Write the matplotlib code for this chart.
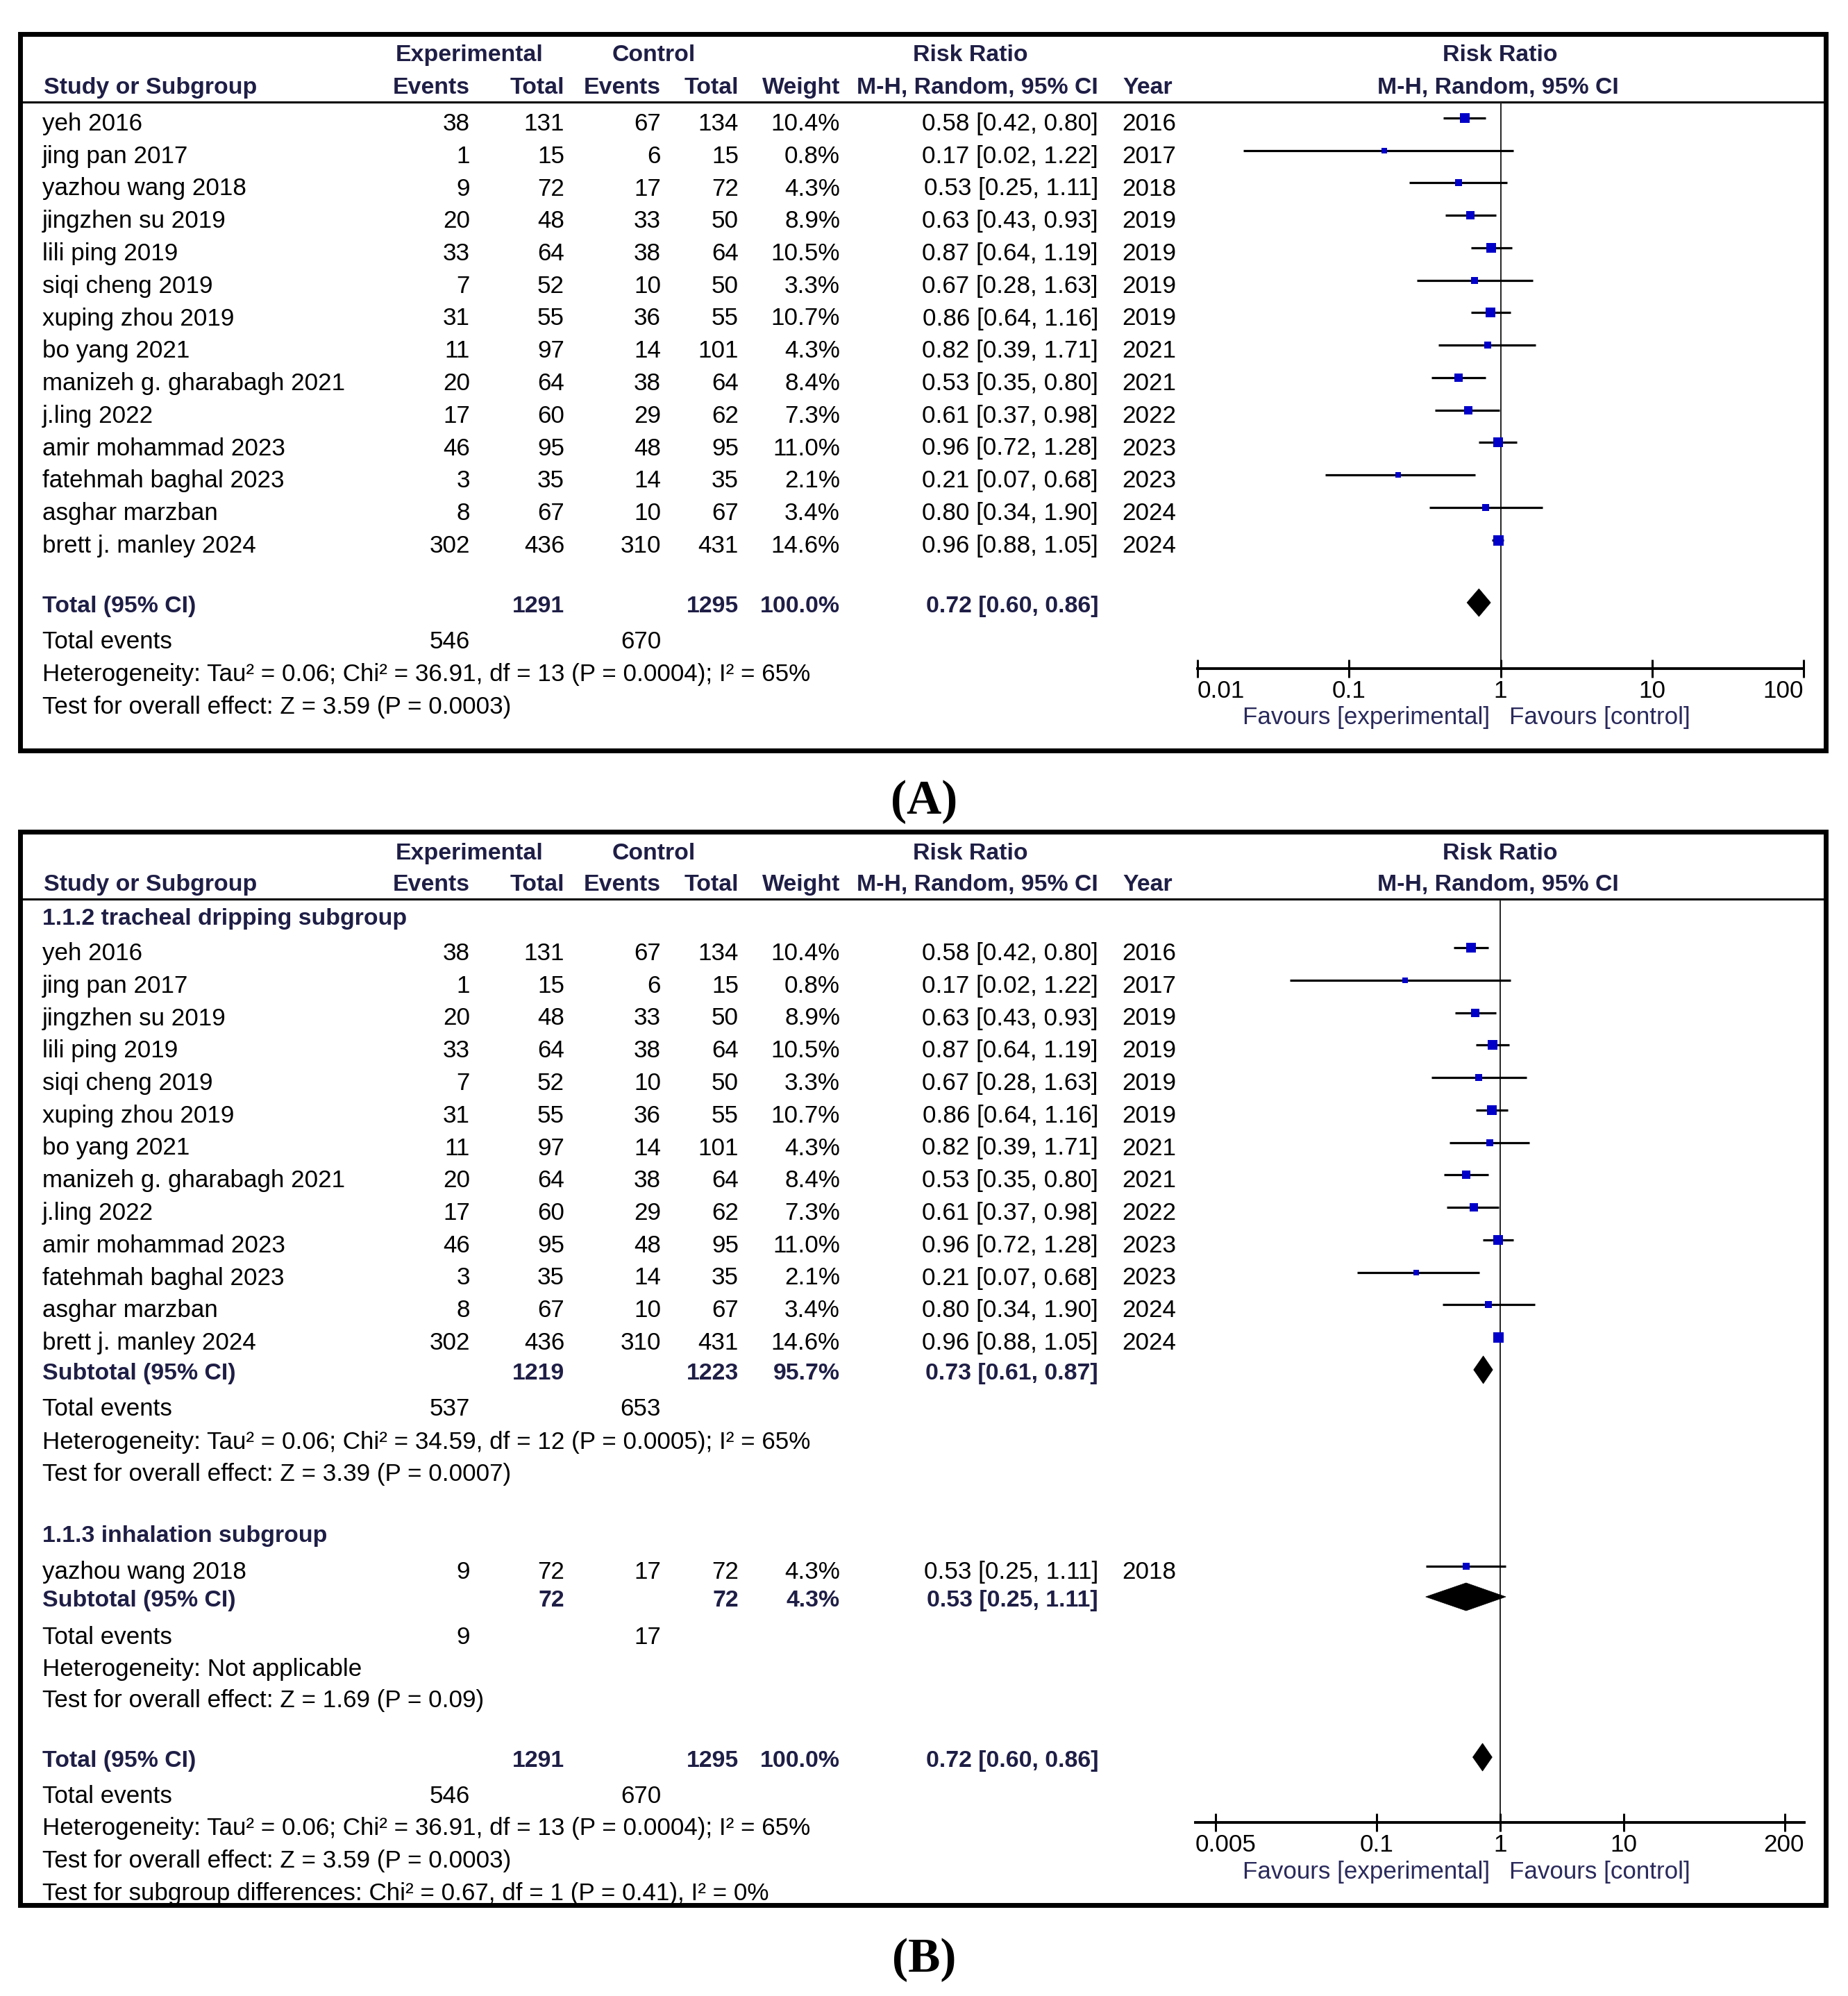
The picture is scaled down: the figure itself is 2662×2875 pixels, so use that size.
import numpy as np
import matplotlib
matplotlib.use('Agg')
import matplotlib.pyplot as plt
from matplotlib.patches import Polygon, Rectangle
from matplotlib.ticker import NullLocator

# ---------------- data ----------------
studies = ["yeh 2016", "jing pan 2017", "yazhou wang 2018", "jingzhen su 2019",
           "lili ping 2019", "siqi cheng 2019", "xuping zhou 2019", "bo yang 2021",
           "manizeh g. gharabagh 2021", "j.ling 2022", "amir mohammad 2023",
           "fatehmah baghal 2023", "asghar marzban", "brett j. manley 2024"]
exp_events = [38, 1, 9, 20, 33, 7, 31, 11, 20, 17, 46, 3, 8, 302]
exp_total = [131, 15, 72, 48, 64, 52, 55, 97, 64, 60, 95, 35, 67, 436]
ctrl_events = [67, 6, 17, 33, 38, 10, 36, 14, 38, 29, 48, 14, 10, 310]
ctrl_total = [134, 15, 72, 50, 64, 50, 55, 101, 64, 62, 95, 35, 67, 431]
weights = [10.4, 0.8, 4.3, 8.9, 10.5, 3.3, 10.7, 4.3, 8.4, 7.3, 11.0, 2.1, 3.4, 14.6]
rr = [0.58, 0.17, 0.53, 0.63, 0.87, 0.67, 0.86, 0.82, 0.53, 0.61, 0.96, 0.21, 0.80, 0.96]
rr_lo = [0.42, 0.02, 0.25, 0.43, 0.64, 0.28, 0.64, 0.39, 0.35, 0.37, 0.72, 0.07, 0.34, 0.88]
rr_hi = [0.80, 1.22, 1.11, 0.93, 1.19, 1.63, 1.16, 1.71, 0.80, 0.98, 1.28, 0.68, 1.90, 1.05]
years = [2016, 2017, 2018, 2019, 2019, 2019, 2019, 2021, 2021, 2022, 2023, 2023, 2024, 2024]

# overall
total_exp_n, total_ctrl_n = 1291, 1295
total_exp_ev, total_ctrl_ev = 546, 670
total_rr = (0.72, 0.60, 0.86)
het_total = "Heterogeneity: Tau² = 0.06; Chi² = 36.91, df = 13 (P = 0.0004); I² = 65%"
test_total = "Test for overall effect: Z = 3.59 (P = 0.0003)"

# subgroups (panel B)
sub1_name = "1.1.2 tracheal dripping subgroup"
sub1_idx = [0, 1, 3, 4, 5, 6, 7, 8, 9, 10, 11, 12, 13]
sub1_n = (1219, 1223, "95.7%")
sub1_ev = (537, 653)
sub1_rr = (0.73, 0.61, 0.87)
sub1_het = "Heterogeneity: Tau² = 0.06; Chi² = 34.59, df = 12 (P = 0.0005); I² = 65%"
sub1_test = "Test for overall effect: Z = 3.39 (P = 0.0007)"

sub2_name = "1.1.3 inhalation subgroup"
sub2_idx = [2]
sub2_n = (72, 72, "4.3%")
sub2_ev = (9, 17)
sub2_rr = (0.53, 0.25, 1.11)
sub2_het = "Heterogeneity: Not applicable"
sub2_test = "Test for overall effect: Z = 1.69 (P = 0.09)"
subgroup_diff = "Test for subgroup differences: Chi² = 0.67, df = 1 (P = 0.41), I² = 0%"

ticksA = [0.01, 0.1, 1, 10, 100]
tick_labelsA = ["0.01", "0.1", "1", "10", "100"]
ticksB = [0.005, 0.1, 1, 10, 200]
tick_labelsB = ["0.005", "0.1", "1", "10", "200"]

# ---------------- layout/style ----------------
W, H = 2662, 2875
fig = plt.figure(figsize=(W / 100, H / 100), dpi=100)
ax0 = fig.add_axes([0, 0, 1, 1])
ax0.set_xlim(0, W)
ax0.set_ylim(H, 0)
ax0.axis('off')

FONT = ['Liberation Sans', 'Arial', 'DejaVu Sans']
FS = 25.2
FS_BOLD = 24.4
DARK = '#1e1e46'
FAV = '#2a2a5c'
BLUE = '#0000c8'

C_STUDY, C_EE, C_ET, C_CE, C_CT, C_W, C_RR, C_YR = 61, 677, 813, 952, 1064, 1210, 1582, 1616
C_PLOT = 2161


def txt(x, y, s, ha='left', bold=False, color=None, size=None, ax=None, family=None):
    if size is None:
        size = FS_BOLD if bold else FS
    (ax or ax0).text(x, y, s, ha=ha, va='baseline', fontsize=size,
                     family=family or FONT, fontweight='bold' if bold else 'normal',
                     color=color or (DARK if bold else 'black'), clip_on=False)


def fmt_rr(e, l, h):
    return f"{e:.2f} [{l:.2f}, {h:.2f}]"


def header(b1, b2):
    txt(676, b1, "Experimental", ha='center', bold=True)
    txt(942, b1, "Control", ha='center', bold=True)
    txt(1398, b1, "Risk Ratio", ha='center', bold=True)
    txt(C_PLOT, b1, "Risk Ratio", ha='center', bold=True)
    txt(63, b2, "Study or Subgroup", bold=True)
    txt(C_EE, b2, "Events", ha='right', bold=True)
    txt(C_ET, b2, "Total", ha='right', bold=True)
    txt(C_CE, b2, "Events", ha='right', bold=True)
    txt(C_CT, b2, "Total", ha='right', bold=True)
    txt(C_W, b2, "Weight", ha='right', bold=True)
    txt(C_RR, b2, "M-H, Random, 95% CI", ha='right', bold=True)
    txt(1617, b2, "Year", bold=True)
    txt(2158, b2, "M-H, Random, 95% CI", ha='center', bold=True)


def study_row(i, b):
    txt(C_STUDY, b, studies[i])
    txt(C_EE, b, str(exp_events[i]), ha='right')
    txt(C_ET, b, str(exp_total[i]), ha='right')
    txt(C_CE, b, str(ctrl_events[i]), ha='right')
    txt(C_CT, b, str(ctrl_total[i]), ha='right')
    txt(C_W, b, f"{weights[i]:.1f}%", ha='right')
    txt(C_RR, b, fmt_rr(rr[i], rr_lo[i], rr_hi[i]), ha='right')
    txt(C_YR, b, str(years[i]))


def make_forest(x0, x1, xlim, ytop, ybot, ticks, labels, lab_b, fav_b):
    ax = fig.add_axes([x0 / W, 1 - ybot / H, (x1 - x0) / W, (ybot - ytop) / H])
    ax.set_xscale('log')
    ax.set_xlim(*xlim)
    ax.set_ylim(ybot, ytop)
    ax.patch.set_alpha(0)
    for s in ['top', 'left', 'right']:
        ax.spines[s].set_visible(False)
    ax.spines['bottom'].set_linewidth(2.8)
    ax.set_xticks(ticks)
    ax.xaxis.set_minor_locator(NullLocator())
    ax.tick_params(axis='x', direction='inout', length=19, width=2.2,
                   labelbottom=False, color='black')
    ax.set_yticks([])
    ax.axvline(1, color='#222222', lw=1.4, zorder=1)
    n = len(ticks)
    for k, (t, lab) in enumerate(zip(ticks, labels)):
        if k == 0:
            txt(xlim[0], lab_b, lab, ha='left', ax=ax)
        elif k == n - 1:
            txt(xlim[1], lab_b, lab, ha='right', ax=ax)
        else:
            txt(t, lab_b, lab, ha='center', ax=ax)
    txt(C_PLOT - 15, fav_b, "Favours [experimental]", ha='right', color=FAV)
    txt(C_PLOT + 13, fav_b, "Favours [control]", ha='left', color=FAV)
    return ax


def square(ax, i, b):
    y = b - 18
    ax.plot([rr_lo[i], rr_hi[i]], [y, y], color='black', lw=2.3, solid_capstyle='butt', zorder=3)
    side = (5 + 10 * np.sqrt(weights[i] / 14.6)) * 0.72
    ax.plot([rr[i]], [y], marker='s', ms=side, color=BLUE, mec=BLUE, mew=0, zorder=4)


def diamond(ax, vals, b):
    e, l, h = vals
    c = b - 14
    ax.add_patch(Polygon([(l, c), (e, c - 20), (h, c), (e, c + 20)], closed=True,
                         facecolor='black', edgecolor='black', lw=0.5, zorder=4))


def frame(x0, y0, x1, y1, hline):
    ax0.add_patch(Rectangle((x0, y0), x1 - x0, y1 - y0, fill=False, lw=5, ec='black', zorder=10))
    ax0.plot([x0, x1], [hline, hline], color='black', lw=2.2, zorder=10)


STEP = 46.75

# ---------------- Panel A ----------------
header(88, 135)
axA = make_forest(1725, 2598, (0.01, 100), 147, 963, ticksA, tick_labelsA, 1005, 1043)
for i in range(len(studies)):
    b = 188 + STEP * i
    study_row(i, b)
    square(axA, i, b)
bT = 882
txt(61, bT, "Total (95% CI)", bold=True)
txt(C_ET, bT, str(total_exp_n), ha='right', bold=True)
txt(C_CT, bT, str(total_ctrl_n), ha='right', bold=True)
txt(C_W, bT, "100.0%", ha='right', bold=True)
txt(C_RR, bT, fmt_rr(*total_rr), ha='right', bold=True)
diamond(axA, total_rr, bT)
txt(61, 934, "Total events")
txt(C_EE, 934, str(total_exp_ev), ha='right')
txt(C_CE, 934, str(total_ctrl_ev), ha='right')
txt(61, 981, het_total)
txt(61, 1028, test_total)
frame(29, 48.5, 2630, 1081, 146.5)
txt(1331, 1172, "(A)", ha='center', bold=True, color='black', size=50,
    family=['Liberation Serif', 'DejaVu Serif'])

# ---------------- Panel B ----------------
header(1238, 1283)
lo_lim = 10 ** ((1722 - C_PLOT) / 178.2)
hi_lim = 10 ** ((2599 - C_PLOT) / 178.2)
axB = make_forest(1722, 2599, (lo_lim, hi_lim), 1296, 2625, ticksB, tick_labelsB, 2667, 2706)

txt(61, 1332, sub1_name, bold=True)
for k, i in enumerate(sub1_idx):
    b = 1383 + STEP * k
    study_row(i, b)
    square(axB, i, b)


def subtotal(b, n, vals):
    txt(61, b, "Subtotal (95% CI)", bold=True)
    txt(C_ET, b, str(n[0]), ha='right', bold=True)
    txt(C_CT, b, str(n[1]), ha='right', bold=True)
    txt(C_W, b, n[2], ha='right', bold=True)
    txt(C_RR, b, fmt_rr(*vals), ha='right', bold=True)


def events_row(b, ev):
    txt(61, b, "Total events")
    txt(C_EE, b, str(ev[0]), ha='right')
    txt(C_CE, b, str(ev[1]), ha='right')


subtotal(1987, sub1_n, sub1_rr)
diamond(axB, sub1_rr, 1987)
events_row(2039, sub1_ev)
txt(61, 2087, sub1_het)
txt(61, 2133, sub1_test)

txt(61, 2221, sub2_name, bold=True)
for k, i in enumerate(sub2_idx):
    b = 2274 + STEP * k
    study_row(i, b)
    square(axB, i, b)
subtotal(2314, sub2_n, sub2_rr)
diamond(axB, sub2_rr, 2314)
events_row(2368, sub2_ev)
txt(61, 2414, sub2_het)
txt(61, 2459, sub2_test)

bT = 2545
txt(61, bT, "Total (95% CI)", bold=True)
txt(C_ET, bT, str(total_exp_n), ha='right', bold=True)
txt(C_CT, bT, str(total_ctrl_n), ha='right', bold=True)
txt(C_W, bT, "100.0%", ha='right', bold=True)
txt(C_RR, bT, fmt_rr(*total_rr), ha='right', bold=True)
diamond(axB, total_rr, bT)
events_row(2597, (total_exp_ev, total_ctrl_ev))
txt(61, 2643, het_total)
txt(61, 2690, test_total)
txt(61, 2737, subgroup_diff)
frame(29, 1198, 2630, 2744, 1295)
txt(1331, 2840, "(B)", ha='center', bold=True, color='black', size=50,
    family=['Liberation Serif', 'DejaVu Serif'])

fig.savefig('out.png', dpi=100, facecolor='white')
